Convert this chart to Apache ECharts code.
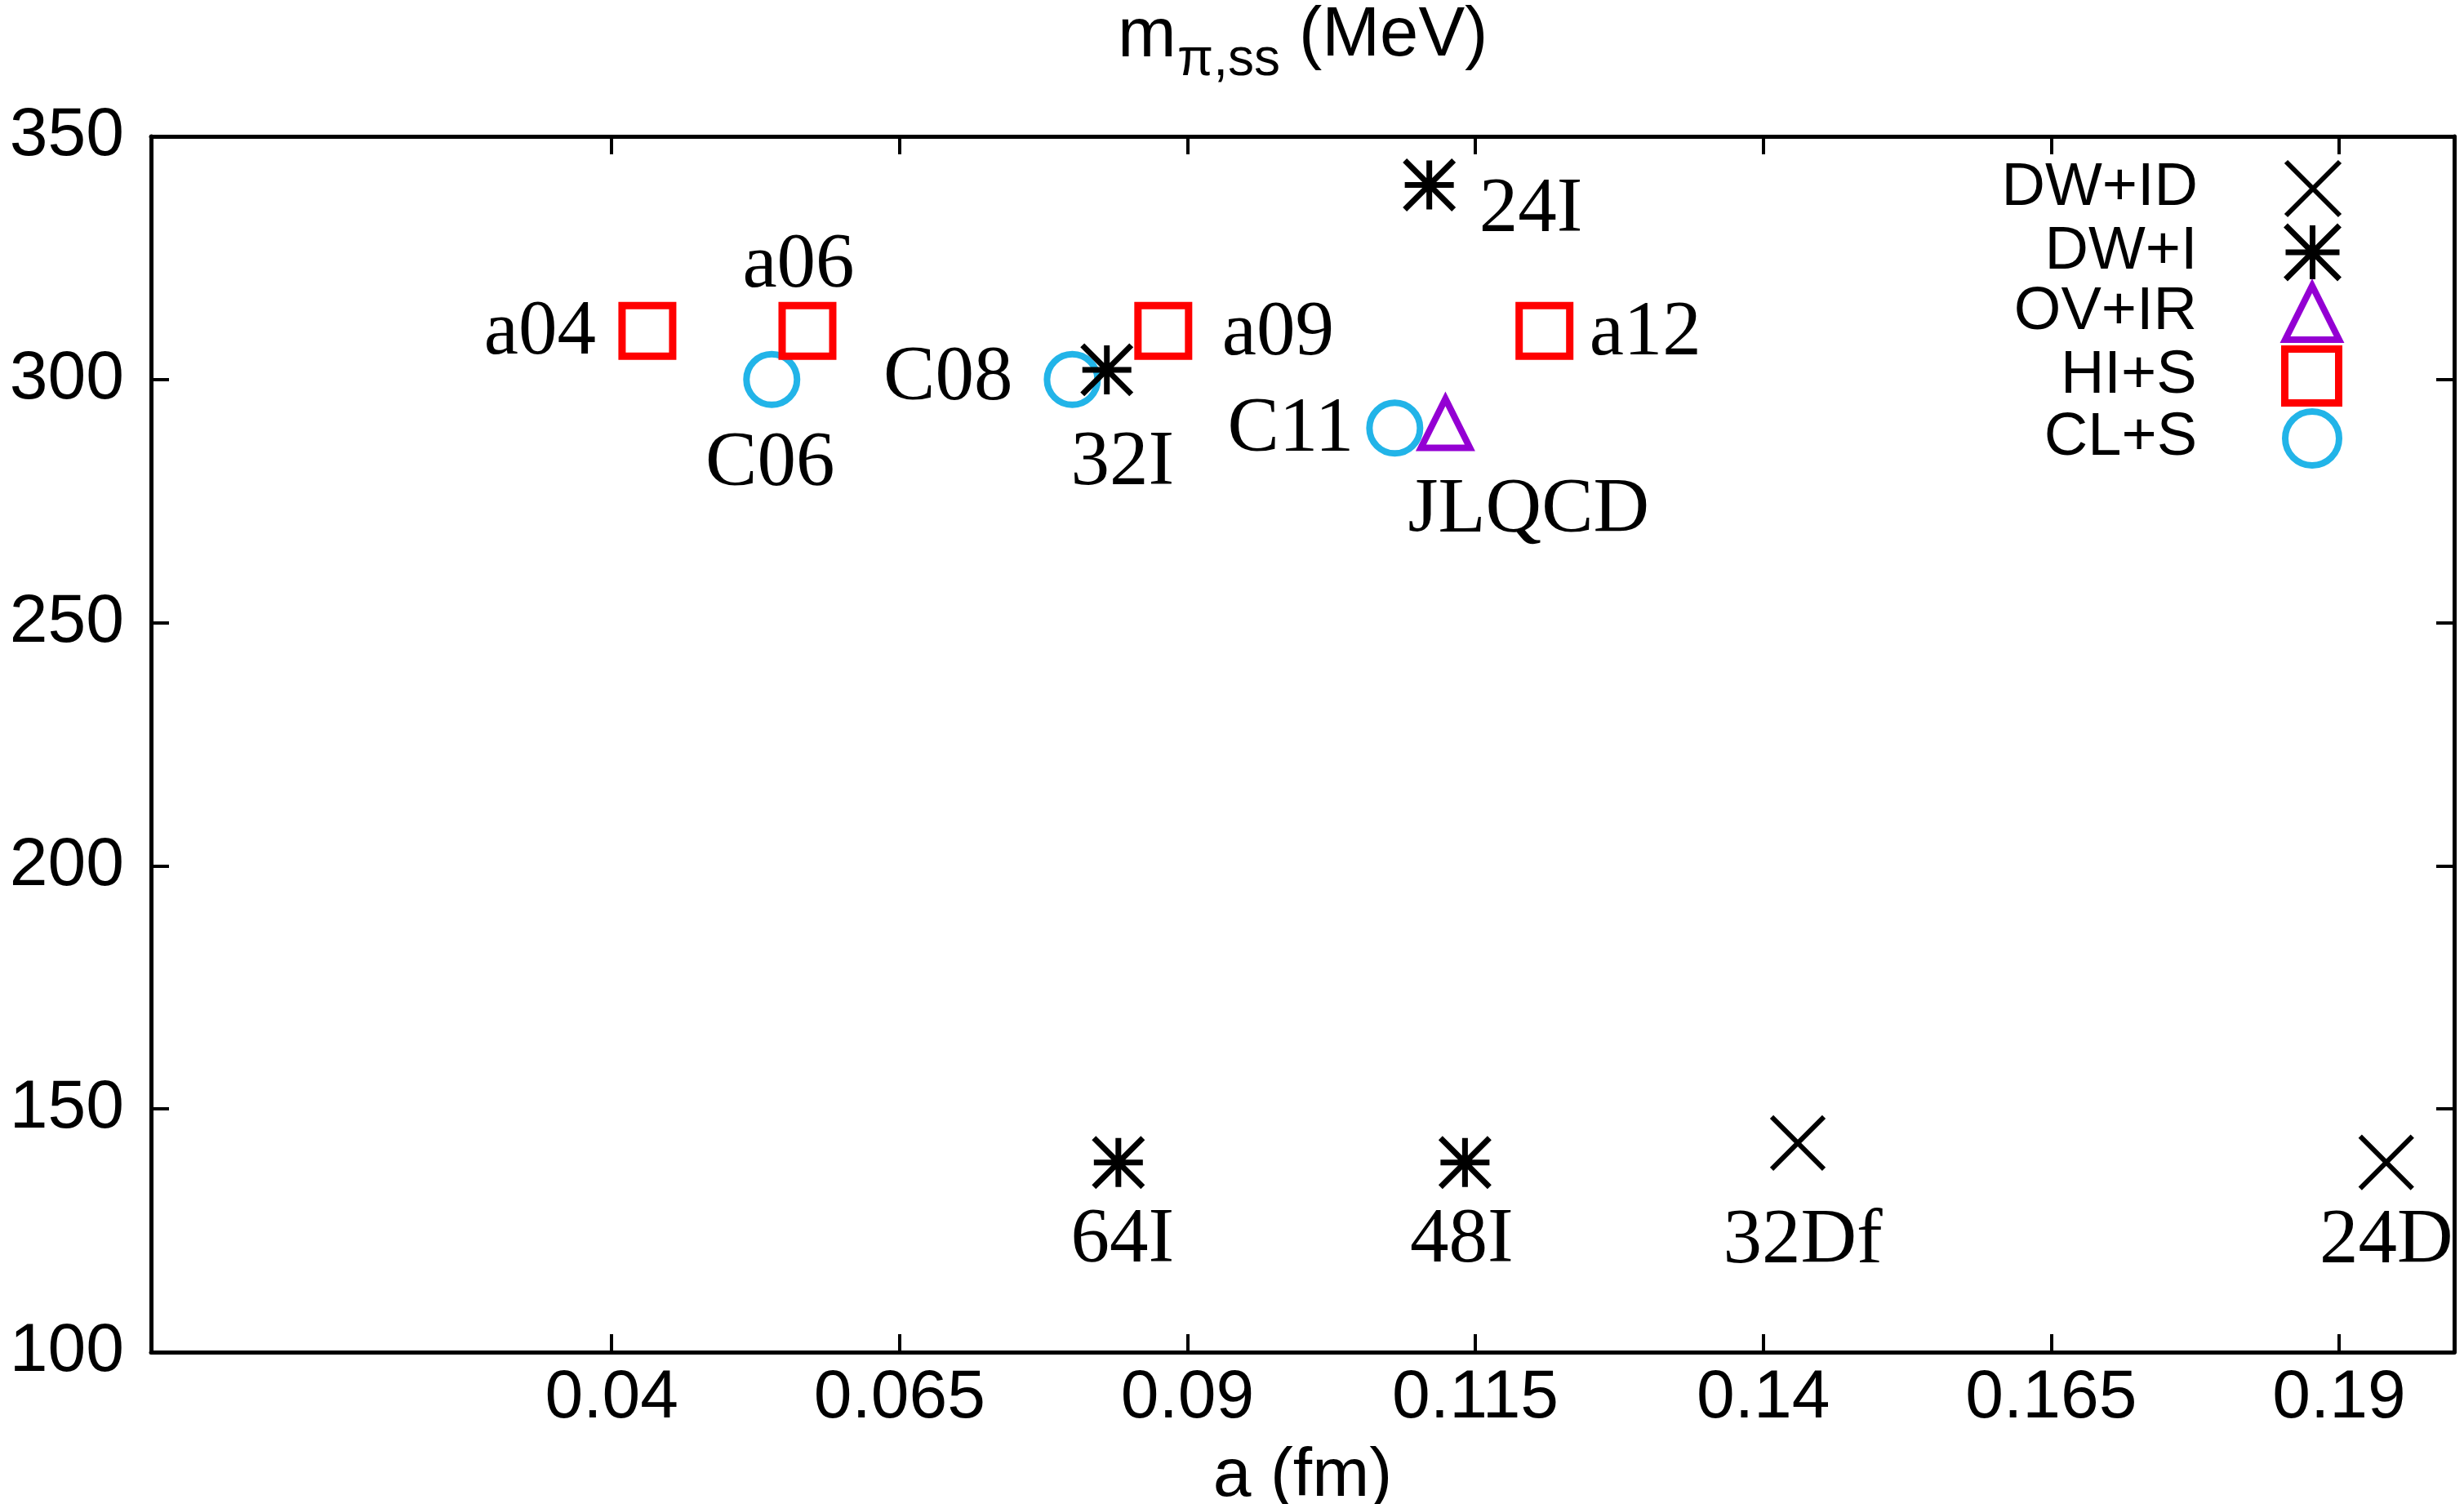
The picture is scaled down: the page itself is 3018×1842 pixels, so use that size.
<!DOCTYPE html>
<html>
<head>
<meta charset="utf-8">
<script src="https://cdn.jsdelivr.net/npm/echarts@6/dist/echarts.min.js"></script>
<style>
  html, body { margin: 0; padding: 0; background: #fff; overflow: hidden; }
  #chart { width: 3018px; height: 1842px; }
</style>
</head>
<body>
<div id="chart"></div>
<script>
// ---------- data ----------
var seriesNames = ['DW+ID', 'DW+I', 'OV+IR', 'HI+S', 'CL+S'];

var dwidNames = ['32Df', '24D'];
var dwidA     = [0.1430, 0.1941];
var dwidM     = [143, 139];

var dwiNames = ['24I', '32I', '64I', '48I'];
var dwiA     = [0.1110, 0.0830, 0.0840, 0.1141];
var dwiM     = [340, 302, 139, 139];

var ovirNames = ['JLQCD'];
var ovirA     = [0.1124];
var ovirM     = [291];

var hisNames = ['a04', 'a06', 'a09', 'a12'];
var hisA     = [0.0431, 0.0570, 0.0879, 0.1210];
var hisM     = [310, 310, 310, 310];

var clsNames = ['C06', 'C08', 'C11'];
var clsA     = [0.0539, 0.0800, 0.1080];
var clsM     = [300, 300, 290];

var xTicks = [0.04, 0.065, 0.09, 0.115, 0.14, 0.165, 0.19];
var xTickLabels = ['0.04', '0.065', '0.09', '0.115', '0.14', '0.165', '0.19'];
var yMin = 100, yMax = 350, yStep = 50;
var xMin = 0, xMax = 0.2;

var titleMain = 'm';
var titleSub = 'π,ss';
var titleUnit = '(MeV)';
var xName = 'a (fm)';

// ---------- styling / layout ----------
var SANS = 'Liberation Sans';
var SERIF = 'Liberation Serif';
var labelPlace = {
  'a04':   { align: 'right',  offset: [-63, 3] },
  'a06':   { align: 'center', offset: [-11, -79] },
  'C06':   { align: 'center', offset: [-2, 104] },
  'C08':   { align: 'right',  offset: [-73, -1] },
  '32I':   { align: 'center', offset: [19, 115] },
  'a09':   { align: 'left',   offset: [72, 4] },
  '24I':   { align: 'left',   offset: [61, 31] },
  'a12':   { align: 'left',   offset: [55, 4] },
  'C11':   { align: 'right',  offset: [-50, 3] },
  'JLQCD': { align: 'center', offset: [102, 108] },
  '64I':   { align: 'center', offset: [5, 96] },
  '48I':   { align: 'center', offset: [-4, 96] },
  '32Df':  { align: 'center', offset: [6, 121] },
  '24D':   { align: 'center', offset: [0, 97] }
};

var SYM_X = 'path://M0,0L10,10M10,0L0,10';
var SYM_STAR = 'path://M5,0L5,10M0,5L10,5M0,0L10,10M10,0L0,10';

var styles = {
  'DW+ID': { symbol: SYM_X,       size: 64, color: '#000000', width: 6 },
  'DW+I':  { symbol: SYM_STAR,    size: 60, color: '#000000', width: 7 },
  'OV+IR': { symbol: 'triangle',  size: 60, color: '#9400d3', width: 8 },
  'HI+S':  { symbol: 'rect',      size: 62, color: '#ff0000', width: 9 },
  'CL+S':  { symbol: 'circle',    size: 62, color: '#22b4e8', width: 8 }
};

function buildData(names, xs, ys) {
  return names.map(function (n, i) {
    var p = labelPlace[n];
    return {
      name: n,
      value: [xs[i], ys[i]],
      label: { align: p.align, offset: p.offset }
    };
  });
}

var dataMap = {
  'DW+ID': buildData(dwidNames, dwidA, dwidM),
  'DW+I':  buildData(dwiNames, dwiA, dwiM),
  'OV+IR': buildData(ovirNames, ovirA, ovirM),
  'HI+S':  buildData(hisNames, hisA, hisM),
  'CL+S':  buildData(clsNames, clsA, clsM)
};

var drawOrder = ['CL+S', 'HI+S', 'OV+IR', 'DW+I', 'DW+ID'];
var series = drawOrder.map(function (s) {
  var st = styles[s];
  return {
    name: s,
    type: 'scatter',
    xAxisIndex: 0,
    yAxisIndex: 0,
    symbol: st.symbol,
    symbolSize: st.size,
    itemStyle: { color: 'rgba(0,0,0,0)', borderColor: st.color, borderWidth: st.width, opacity: 1 },
    label: {
      show: true,
      position: 'inside',
      verticalAlign: 'middle',
      formatter: function (p) { return p.name; },
      fontFamily: SERIF,
      fontSize: 95,
      color: '#000'
    },
    emphasis: { disabled: true },
    data: dataMap[s]
  };
});

var legendCenters = [227, 305, 379, 456, 533];
var legends = seriesNames.map(function (s, i) {
  var st = styles[s];
  return {
    show: true,
    orient: 'vertical',
    align: 'right',
    right: 149,
    top: legendCenters[i] - 33,
    padding: 0,
    itemWidth: 66,
    itemHeight: 66,
    selectedMode: false,
    data: [{
      name: s,
      icon: st.symbol,
      itemStyle: { color: 'rgba(0,0,0,0)', borderColor: st.color, borderWidth: st.width }
    }],
    textStyle: {
      fontFamily: SANS,
      fontSize: 74,
      color: '#000',
      lineHeight: 66,
      padding: [0, 103, 0, 0]
    }
  };
});

function axisCommon() {
  return {
    axisLine: { show: true, onZero: false, lineStyle: { color: '#000', width: 5 } },
    splitLine: { show: false }
  };
}

function titlePart(text, left, top, size) {
  return {
    text: text, left: left, top: top, padding: 0,
    textStyle: { fontFamily: SANS, fontSize: size, fontWeight: 'normal', color: '#000', lineHeight: size }
  };
}

var option = {
  backgroundColor: '#ffffff',
  animation: false,
  title: [
    titlePart(titleMain, 1369, 2, 86),
    titlePart(titleSub, 1442, 42, 64),
    titlePart(titleUnit, 1591, 2, 85)
  ],
  grid: { left: 185, top: 167, width: 2821, height: 1489, containLabel: false, outerBoundsMode: 'none' },
  legend: legends,
  xAxis: [
    Object.assign(axisCommon(), {
      type: 'value', position: 'bottom', min: xMin, max: xMax,
      name: xName, nameLocation: 'middle', nameGap: 111,
      nameTextStyle: { fontFamily: SANS, fontSize: 84, color: '#000' },
      axisTick: { show: true, inside: true, length: 22, lineStyle: { color: '#000', width: 4 }, customValues: xTicks },
      axisLabel: {
        show: true, customValues: xTicks, margin: 15,
        fontFamily: SANS, fontSize: 84, color: '#000',
        formatter: function (v) {
          var idx = xTicks.findIndex(function (t) { return Math.abs(t - v) < 1e-9; });
          return idx >= 0 ? xTickLabels[idx] : '';
        }
      }
    }),
    Object.assign(axisCommon(), {
      type: 'value', position: 'top', min: xMin, max: xMax,
      axisTick: { show: true, inside: true, length: 22, lineStyle: { color: '#000', width: 4 }, customValues: xTicks },
      axisLabel: { show: false }
    })
  ],
  yAxis: [
    Object.assign(axisCommon(), {
      type: 'value', position: 'left', min: yMin, max: yMax, interval: yStep,
      axisTick: { show: true, inside: true, length: 22, lineStyle: { color: '#000', width: 4 } },
      axisLabel: { show: true, margin: 33, fontFamily: SANS, fontSize: 84, color: '#000' }
    }),
    Object.assign(axisCommon(), {
      type: 'value', position: 'right', min: yMin, max: yMax, interval: yStep,
      axisTick: { show: true, inside: true, length: 22, lineStyle: { color: '#000', width: 4 } },
      axisLabel: { show: false }
    })
  ],
  series: series
};

var chart = echarts.init(document.getElementById('chart'), null, { renderer: 'canvas' });
chart.setOption(option);
</script>
</body>
</html>
